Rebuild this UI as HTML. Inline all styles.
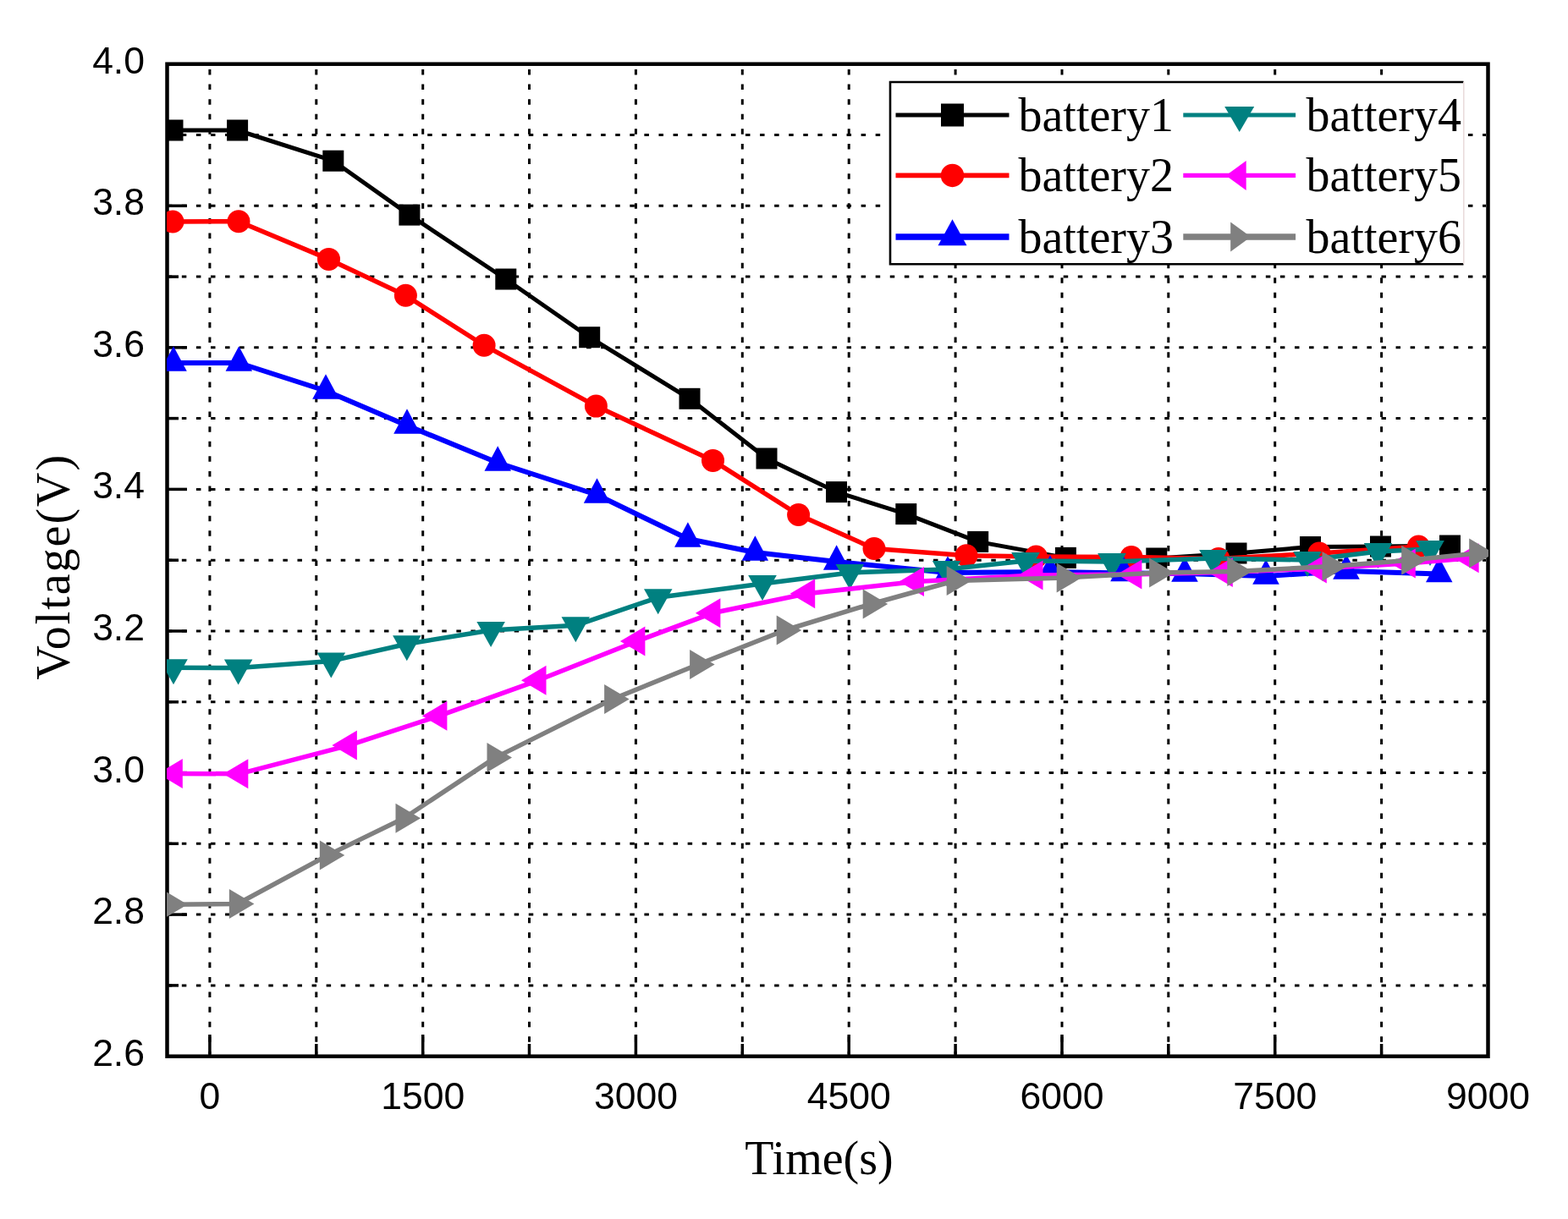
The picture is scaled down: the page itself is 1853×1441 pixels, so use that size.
<!DOCTYPE html>
<html><head><meta charset="utf-8"><title>Voltage vs Time</title><style>html,body{margin:0;padding:0;background:#fff;overflow:hidden}svg{display:block}</style></head><body>
<svg width="1853" height="1441" viewBox="0 0 1853 1441">
<defs><clipPath id="pc"><rect x="197" y="78" width="1562" height="1168.4"/></clipPath></defs>
<rect width="1853" height="1441" fill="#fff"/>
<g stroke="#000" stroke-width="3" stroke-dasharray="6.5 11.09" stroke-dashoffset="15.59" fill="none"><line x1="247.9" y1="80" x2="247.9" y2="1246"/><line x1="373.8" y1="80" x2="373.8" y2="1246"/><line x1="499.7" y1="80" x2="499.7" y2="1246"/><line x1="625.5" y1="80" x2="625.5" y2="1246"/><line x1="751.4" y1="80" x2="751.4" y2="1246"/><line x1="877.3" y1="80" x2="877.3" y2="1246"/><line x1="1003.2" y1="80" x2="1003.2" y2="1246"/><line x1="1129.1" y1="80" x2="1129.1" y2="1246"/><line x1="1255.0" y1="80" x2="1255.0" y2="1246"/><line x1="1380.8" y1="80" x2="1380.8" y2="1246"/><line x1="1506.7" y1="80" x2="1506.7" y2="1246"/><line x1="1632.6" y1="80" x2="1632.6" y2="1246"/></g>
<g stroke="#000" stroke-width="3" stroke-dasharray="5.5 11.58" stroke-dashoffset="2.24" fill="none"><line x1="200" y1="159.5" x2="1756" y2="159.5"/><line x1="200" y1="243.3" x2="1756" y2="243.3"/><line x1="200" y1="327.1" x2="1756" y2="327.1"/><line x1="200" y1="410.8" x2="1756" y2="410.8"/><line x1="200" y1="494.6" x2="1756" y2="494.6"/><line x1="200" y1="578.4" x2="1756" y2="578.4"/><line x1="200" y1="662.2" x2="1756" y2="662.2"/><line x1="200" y1="746.0" x2="1756" y2="746.0"/><line x1="200" y1="829.8" x2="1756" y2="829.8"/><line x1="200" y1="913.6" x2="1756" y2="913.6"/><line x1="200" y1="997.3" x2="1756" y2="997.3"/><line x1="200" y1="1081.1" x2="1756" y2="1081.1"/><line x1="200" y1="1164.9" x2="1756" y2="1164.9"/></g>
<g stroke="#000" stroke-width="3.5" fill="none"><line x1="247.9" y1="1248" x2="247.9" y2="1223"/><line x1="373.8" y1="1248" x2="373.8" y2="1234"/><line x1="499.7" y1="1248" x2="499.7" y2="1223"/><line x1="625.5" y1="1248" x2="625.5" y2="1234"/><line x1="751.4" y1="1248" x2="751.4" y2="1223"/><line x1="877.3" y1="1248" x2="877.3" y2="1234"/><line x1="1003.2" y1="1248" x2="1003.2" y2="1223"/><line x1="1129.1" y1="1248" x2="1129.1" y2="1234"/><line x1="1255.0" y1="1248" x2="1255.0" y2="1223"/><line x1="1380.8" y1="1248" x2="1380.8" y2="1234"/><line x1="1506.7" y1="1248" x2="1506.7" y2="1223"/><line x1="1632.6" y1="1248" x2="1632.6" y2="1234"/><line x1="198" y1="159.5" x2="211" y2="159.5"/><line x1="198" y1="243.3" x2="221" y2="243.3"/><line x1="198" y1="327.1" x2="211" y2="327.1"/><line x1="198" y1="410.8" x2="221" y2="410.8"/><line x1="198" y1="494.6" x2="211" y2="494.6"/><line x1="198" y1="578.4" x2="221" y2="578.4"/><line x1="198" y1="662.2" x2="211" y2="662.2"/><line x1="198" y1="746.0" x2="221" y2="746.0"/><line x1="198" y1="829.8" x2="211" y2="829.8"/><line x1="198" y1="913.6" x2="221" y2="913.6"/><line x1="198" y1="997.3" x2="211" y2="997.3"/><line x1="198" y1="1081.1" x2="221" y2="1081.1"/><line x1="198" y1="1164.9" x2="211" y2="1164.9"/></g>
<rect x="197.5" y="75.7" width="1561.0" height="1173.0" fill="none" stroke="#000" stroke-width="4.5"/>
<g clip-path="url(#pc)">
<path d="M204.0,154.0 L280.6,154.0 L393.8,190.2 L483.9,254.1 L597.8,330.0 L696.7,398.7 L815.0,471.3 L906.0,542.0 L988.5,581.6 L1070.8,607.6 L1155.7,640.4 L1259.4,659.4 L1366.8,660.0 L1461.0,654.0 L1548.5,646.5 L1631.5,646.0 L1713.5,645.0" fill="none" stroke="#000000" stroke-width="5.0" stroke-linejoin="round"/>
<rect x="191.5" y="141.5" width="25.0" height="25.0" fill="#000000"/><rect x="268.1" y="141.5" width="25.0" height="25.0" fill="#000000"/><rect x="381.3" y="177.7" width="25.0" height="25.0" fill="#000000"/><rect x="471.4" y="241.6" width="25.0" height="25.0" fill="#000000"/><rect x="585.3" y="317.5" width="25.0" height="25.0" fill="#000000"/><rect x="684.2" y="386.2" width="25.0" height="25.0" fill="#000000"/><rect x="802.5" y="458.8" width="25.0" height="25.0" fill="#000000"/><rect x="893.5" y="529.5" width="25.0" height="25.0" fill="#000000"/><rect x="976.0" y="569.1" width="25.0" height="25.0" fill="#000000"/><rect x="1058.3" y="595.1" width="25.0" height="25.0" fill="#000000"/><rect x="1143.2" y="627.9" width="25.0" height="25.0" fill="#000000"/><rect x="1246.9" y="646.9" width="25.0" height="25.0" fill="#000000"/><rect x="1354.3" y="647.5" width="25.0" height="25.0" fill="#000000"/><rect x="1448.5" y="641.5" width="25.0" height="25.0" fill="#000000"/><rect x="1536.0" y="634.0" width="25.0" height="25.0" fill="#000000"/><rect x="1619.0" y="633.5" width="25.0" height="25.0" fill="#000000"/><rect x="1701.0" y="632.5" width="25.0" height="25.0" fill="#000000"/>
<path d="M204.0,262.0 L282.0,261.7 L388.5,306.4 L479.4,349.2 L572.1,408.2 L704.4,480.1 L842.5,544.4 L943.6,608.5 L1033.0,648.5 L1142.0,656.7 L1224.4,658.0 L1337.0,658.5 L1440.0,660.5 L1559.0,654.0 L1676.4,646.0" fill="none" stroke="#ff0000" stroke-width="5.5" stroke-linejoin="round"/>
<circle cx="204.0" cy="262.0" r="13.5" fill="#ff0000"/><circle cx="282.0" cy="261.7" r="13.5" fill="#ff0000"/><circle cx="388.5" cy="306.4" r="13.5" fill="#ff0000"/><circle cx="479.4" cy="349.2" r="13.5" fill="#ff0000"/><circle cx="572.1" cy="408.2" r="13.5" fill="#ff0000"/><circle cx="704.4" cy="480.1" r="13.5" fill="#ff0000"/><circle cx="842.5" cy="544.4" r="13.5" fill="#ff0000"/><circle cx="943.6" cy="608.5" r="13.5" fill="#ff0000"/><circle cx="1033.0" cy="648.5" r="13.5" fill="#ff0000"/><circle cx="1142.0" cy="656.7" r="13.5" fill="#ff0000"/><circle cx="1224.4" cy="658.0" r="13.5" fill="#ff0000"/><circle cx="1337.0" cy="658.5" r="13.5" fill="#ff0000"/><circle cx="1440.0" cy="660.5" r="13.5" fill="#ff0000"/><circle cx="1559.0" cy="654.0" r="13.5" fill="#ff0000"/><circle cx="1676.4" cy="646.0" r="13.5" fill="#ff0000"/>
<path d="M205.0,429.0 L282.3,429.0 L385.0,462.0 L481.0,503.0 L588.2,547.0 L705.5,585.0 L812.9,637.0 L892.4,653.0 L988.6,664.0 L1120.0,677.0 L1241.0,676.0 L1328.0,677.5 L1400.0,678.0 L1496.0,681.0 L1591.0,675.0 L1700.7,678.5" fill="none" stroke="#0000ff" stroke-width="6.0" stroke-linejoin="round"/>
<polygon points="205.0,409.3 220.8,438.8 189.2,438.8" fill="#0000ff"/><polygon points="282.3,409.3 298.1,438.8 266.6,438.8" fill="#0000ff"/><polygon points="385.0,442.3 400.8,471.8 369.2,471.8" fill="#0000ff"/><polygon points="481.0,483.3 496.8,512.8 465.2,512.8" fill="#0000ff"/><polygon points="588.2,527.3 604.0,556.8 572.5,556.8" fill="#0000ff"/><polygon points="705.5,565.3 721.2,594.8 689.8,594.8" fill="#0000ff"/><polygon points="812.9,617.3 828.6,646.8 797.1,646.8" fill="#0000ff"/><polygon points="892.4,633.3 908.1,662.8 876.6,662.8" fill="#0000ff"/><polygon points="988.6,644.3 1004.4,673.8 972.9,673.8" fill="#0000ff"/><polygon points="1120.0,657.3 1135.8,686.8 1104.2,686.8" fill="#0000ff"/><polygon points="1241.0,656.3 1256.8,685.8 1225.2,685.8" fill="#0000ff"/><polygon points="1328.0,657.8 1343.8,687.3 1312.2,687.3" fill="#0000ff"/><polygon points="1400.0,658.3 1415.8,687.8 1384.2,687.8" fill="#0000ff"/><polygon points="1496.0,661.3 1511.8,690.8 1480.2,690.8" fill="#0000ff"/><polygon points="1591.0,655.3 1606.8,684.8 1575.2,684.8" fill="#0000ff"/><polygon points="1700.7,658.8 1716.5,688.3 1685.0,688.3" fill="#0000ff"/>
<path d="M205.0,789.3 L281.6,789.5 L391.3,781.4 L480.8,761.3 L580.1,745.0 L680.3,739.3 L777.7,706.3 L901.0,690.0 L1004.3,677.0 L1118.6,673.0 L1212.0,663.0 L1314.0,664.0 L1434.0,660.0 L1545.0,662.0 L1628.5,652.0 L1690.0,649.0" fill="none" stroke="#008080" stroke-width="5.5" stroke-linejoin="round"/>
<polygon points="205.0,809.3 221.8,779.3 188.2,779.3" fill="#008080"/><polygon points="281.6,809.5 298.4,779.5 264.9,779.5" fill="#008080"/><polygon points="391.3,801.4 408.1,771.4 374.6,771.4" fill="#008080"/><polygon points="480.8,781.3 497.6,751.3 464.1,751.3" fill="#008080"/><polygon points="580.1,765.0 596.9,735.0 563.4,735.0" fill="#008080"/><polygon points="680.3,759.3 697.0,729.3 663.5,729.3" fill="#008080"/><polygon points="777.7,726.3 794.5,696.3 761.0,696.3" fill="#008080"/><polygon points="901.0,710.0 917.8,680.0 884.2,680.0" fill="#008080"/><polygon points="1004.3,697.0 1021.0,667.0 987.5,667.0" fill="#008080"/><polygon points="1118.6,693.0 1135.3,663.0 1101.8,663.0" fill="#008080"/><polygon points="1212.0,683.0 1228.8,653.0 1195.2,653.0" fill="#008080"/><polygon points="1314.0,684.0 1330.8,654.0 1297.2,654.0" fill="#008080"/><polygon points="1434.0,680.0 1450.8,650.0 1417.2,650.0" fill="#008080"/><polygon points="1545.0,682.0 1561.8,652.0 1528.2,652.0" fill="#008080"/><polygon points="1628.5,672.0 1645.2,642.0 1611.8,642.0" fill="#008080"/><polygon points="1690.0,669.0 1706.8,639.0 1673.2,639.0" fill="#008080"/>
<path d="M206.0,914.5 L283.5,914.7 L412.1,881.1 L518.6,846.3 L635.7,804.3 L752.6,758.0 L841.6,724.8 L953.4,701.8 L1082.2,687.5 L1222.7,680.0 L1339.6,679.0 L1447.0,676.5 L1558.0,672.0 L1663.0,666.0 L1737.8,659.8" fill="none" stroke="#ff00ff" stroke-width="5.5" stroke-linejoin="round"/>
<polygon points="186.3,914.5 215.8,897.0 215.8,932.0" fill="#ff00ff"/><polygon points="263.8,914.7 293.3,897.2 293.3,932.2" fill="#ff00ff"/><polygon points="392.4,881.1 421.9,863.6 421.9,898.6" fill="#ff00ff"/><polygon points="498.9,846.3 528.4,828.8 528.4,863.8" fill="#ff00ff"/><polygon points="616.0,804.3 645.5,786.8 645.5,821.8" fill="#ff00ff"/><polygon points="732.9,758.0 762.4,740.5 762.4,775.5" fill="#ff00ff"/><polygon points="821.9,724.8 851.4,707.3 851.4,742.3" fill="#ff00ff"/><polygon points="933.7,701.8 963.2,684.3 963.2,719.3" fill="#ff00ff"/><polygon points="1062.5,687.5 1092.0,670.0 1092.0,705.0" fill="#ff00ff"/><polygon points="1203.0,680.0 1232.5,662.5 1232.5,697.5" fill="#ff00ff"/><polygon points="1319.9,679.0 1349.4,661.5 1349.4,696.5" fill="#ff00ff"/><polygon points="1427.3,676.5 1456.8,659.0 1456.8,694.0" fill="#ff00ff"/><polygon points="1538.3,672.0 1567.8,654.5 1567.8,689.5" fill="#ff00ff"/><polygon points="1643.3,666.0 1672.8,648.5 1672.8,683.5" fill="#ff00ff"/><polygon points="1718.1,659.8 1747.6,642.3 1747.6,677.3" fill="#ff00ff"/>
<path d="M202.0,1069.2 L280.7,1068.5 L387.6,1010.9 L477.3,967.2 L585.3,895.6 L723.9,826.5 L824.9,785.5 L927.5,745.0 L1029.5,714.0 L1128.5,686.5 L1258.5,683.0 L1367.9,677.0 L1460.1,675.5 L1572.3,669.5 L1666.0,662.2 L1746.0,654.0" fill="none" stroke="#808080" stroke-width="5.5" stroke-linejoin="round"/>
<polygon points="221.7,1069.2 192.2,1051.7 192.2,1086.7" fill="#808080"/><polygon points="300.4,1068.5 270.9,1051.0 270.9,1086.0" fill="#808080"/><polygon points="407.3,1010.9 377.8,993.4 377.8,1028.4" fill="#808080"/><polygon points="497.0,967.2 467.5,949.7 467.5,984.7" fill="#808080"/><polygon points="605.0,895.6 575.5,878.1 575.5,913.1" fill="#808080"/><polygon points="743.6,826.5 714.1,809.0 714.1,844.0" fill="#808080"/><polygon points="844.6,785.5 815.1,768.0 815.1,803.0" fill="#808080"/><polygon points="947.2,745.0 917.7,727.5 917.7,762.5" fill="#808080"/><polygon points="1049.2,714.0 1019.7,696.5 1019.7,731.5" fill="#808080"/><polygon points="1148.2,686.5 1118.7,669.0 1118.7,704.0" fill="#808080"/><polygon points="1278.2,683.0 1248.7,665.5 1248.7,700.5" fill="#808080"/><polygon points="1387.6,677.0 1358.1,659.5 1358.1,694.5" fill="#808080"/><polygon points="1479.8,675.5 1450.3,658.0 1450.3,693.0" fill="#808080"/><polygon points="1592.0,669.5 1562.5,652.0 1562.5,687.0" fill="#808080"/><polygon points="1685.7,662.2 1656.2,644.7 1656.2,679.7" fill="#808080"/><polygon points="1765.7,654.0 1736.2,636.5 1736.2,671.5" fill="#808080"/>
</g>
<g font-family="'Liberation Sans', Arial, sans-serif" font-size="44.5" fill="#000"><text x="247.9" y="1310.5" text-anchor="middle">0</text><text x="499.7" y="1310.5" text-anchor="middle">1500</text><text x="751.4" y="1310.5" text-anchor="middle">3000</text><text x="1003.2" y="1310.5" text-anchor="middle">4500</text><text x="1255.0" y="1310.5" text-anchor="middle">6000</text><text x="1506.7" y="1310.5" text-anchor="middle">7500</text><text x="1758.5" y="1310.5" text-anchor="middle">9000</text><text x="171" y="86.7" text-anchor="end">4.0</text><text x="171" y="254.3" text-anchor="end">3.8</text><text x="171" y="421.8" text-anchor="end">3.6</text><text x="171" y="589.4" text-anchor="end">3.4</text><text x="171" y="757.0" text-anchor="end">3.2</text><text x="171" y="924.6" text-anchor="end">3.0</text><text x="171" y="1092.1" text-anchor="end">2.8</text><text x="171" y="1259.7" text-anchor="end">2.6</text></g>
<g font-family="'Liberation Serif', 'Times New Roman', serif" font-size="56" fill="#000">
<text x="968" y="1387.7" text-anchor="middle">Time(s)</text>
<text transform="translate(81.5,669.7) rotate(-90)" text-anchor="middle" letter-spacing="2">Voltage(V)</text>
</g>
<rect x="1052" y="97" width="677.5" height="215" fill="#fff" stroke="none"/>
<path d="M1729.5,97 H1052 V312.3 H1729.5" fill="none" stroke="#000" stroke-width="2.6"/>
<line x1="1729.8" y1="97" x2="1729.8" y2="312" stroke="#e8dada" stroke-width="1.5"/>
<line x1="1058.5" y1="136.0" x2="1192.5" y2="136.0" stroke="#000000" stroke-width="4.9"/><rect x="1112.0" y="122.5" width="27" height="27" fill="#000000"/><line x1="1058.5" y1="207.4" x2="1192.5" y2="207.4" stroke="#ff0000" stroke-width="5.8"/><circle cx="1125.5" cy="207.4" r="13.75" fill="#ff0000"/><line x1="1058.5" y1="280.0" x2="1192.5" y2="280.0" stroke="#0000ff" stroke-width="7.7"/><polygon points="1125.5,259.3 1142.5,290.3 1108.5,290.3" fill="#0000ff"/><line x1="1398.3" y1="136.0" x2="1531.1" y2="136.0" stroke="#008080" stroke-width="5.0"/><polygon points="1464.7,156.0 1482.2,126.0 1447.2,126.0" fill="#008080"/><line x1="1398.3" y1="207.4" x2="1531.1" y2="207.4" stroke="#ff00ff" stroke-width="5.4"/><polygon points="1448.7,207.4 1472.7,189.9 1472.7,224.9" fill="#ff00ff"/><line x1="1398.3" y1="280.0" x2="1531.1" y2="280.0" stroke="#808080" stroke-width="7.5"/><polygon points="1478.2,280.0 1454.2,262.5 1454.2,297.5" fill="#808080"/>
<g font-family="'Liberation Serif', 'Times New Roman', serif" font-size="56" fill="#000">
<text x="1203.5" y="154.5">battery1</text>
<text x="1203.5" y="226.0">battery2</text>
<text x="1203.5" y="298.7">battery3</text>
<text x="1543.5" y="154.5">battery4</text>
<text x="1543.5" y="226.0">battery5</text>
<text x="1543.5" y="298.7">battery6</text>
</g>
</svg></body></html>
